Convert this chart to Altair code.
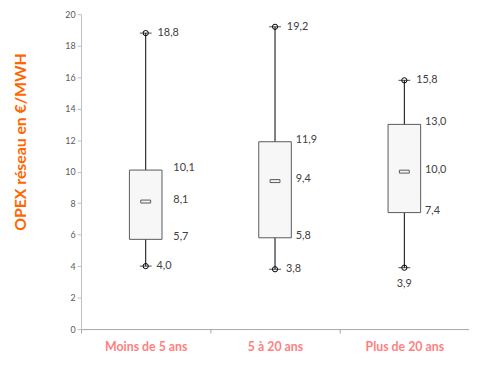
import altair as alt
import pandas as pd

categories = ["Moins de 5 ans", "5 à 20 ans", "Plus de 20 ans"]
mins = [4.0, 3.8, 3.9]
q1s = [5.7, 5.8, 7.4]
medians = [8.1, 9.4, 10.0]
q3s = [10.1, 11.9, 13.0]
maxs = [18.8, 19.2, 15.8]

df = pd.DataFrame({
    "cat": categories, "min": mins, "q1": q1s, "med": medians, "q3": q3s, "max": maxs,
})
fmt = lambda v: f"{v:.1f}".replace(".", ",")
for c in ["min", "q1", "med", "q3", "max"]:
    df[c + "_l"] = df[c].map(fmt)

FONT = "Lato"
xenc = alt.X("cat:N", sort=categories, title=None,
             scale=alt.Scale(paddingInner=0, paddingOuter=0),
             axis=alt.Axis(labelColor="#FF7F7F", labelFontSize=12.5, labelFontWeight="bold",
                           labelFont=FONT, labelPadding=8, domainColor="#A6A6A6",
                           tickColor="#A6A6A6", tickBand="extent", tickSize=4, labelAngle=0))
yscale = alt.Scale(domain=[0, 20], nice=False)
yenc = lambda f: alt.Y(f + ":Q", scale=yscale, title="OPEX réseau en €/MWH",
                       axis=alt.Axis(values=list(range(0, 21, 2)), grid=False,
                                     labelColor="#595959", labelFontSize=9, labelFont=FONT,
                                     domainColor="#BFBFBF", tickColor="#BFBFBF", tickSize=4,
                                     titleColor="#FF6600", titleFontSize=16, titleFont=FONT,
                                     titleFontWeight="bold", titleAngle=270,
                                     titleAlign="center", titleBaseline="middle",
                                     titleX=-61, titleY=129))

base = alt.Chart(df)
whisker = base.mark_rule(color="#000000", strokeWidth=1).encode(x=xenc, y=yenc("min"), y2="max:Q")
box = base.mark_bar(size=33, fill="#F7F7F7", stroke="#595959", strokeWidth=1).encode(
    x=xenc, y=yenc("q1"), y2="q3:Q")
med = base.mark_tick(size=10, thickness=3, fill="#F2F2F2", stroke="#595959", strokeWidth=1,
                     opacity=1).encode(x=xenc, y=yenc("med"))

caps = []
for f in ["min", "max"]:
    caps.append(base.mark_tick(size=12, thickness=1, color="#000000").encode(x=xenc, y=yenc(f)))
    caps.append(base.mark_point(shape="circle", size=28, filled=False, color="#000000",
                                strokeWidth=1, opacity=1).encode(x=xenc, y=yenc(f)))

tstyle = dict(font=FONT, fontSize=11, color="#404040", align="left", baseline="middle")
box_dx = alt.expr("datum.cat == 'Moins de 5 ans' ? 28 : 21")
texts = []
for f in ["q1", "med", "q3"]:
    texts.append(base.mark_text(dx=box_dx, dy=-2, **tstyle).encode(
        x=xenc, y=yenc(f), text=f + "_l:N"))
texts.append(base.mark_text(dx=12, **tstyle).encode(x=xenc, y=yenc("max"), text="max_l:N"))
min_main = base.transform_filter("datum.cat != 'Plus de 20 ans'")
texts.append(min_main.mark_text(dx=11, **tstyle).encode(x=xenc, y=yenc("min"), text="min_l:N"))
min_last = base.transform_filter("datum.cat == 'Plus de 20 ans'")
texts.append(min_last.mark_text(dy=11, **{**tstyle, "align": "center", "baseline": "top"}).encode(
    x=xenc, y=yenc("min"), text="min_l:N"))

chart = alt.layer(whisker, box, med, *caps, *texts).properties(
    width=393, height=319,
    autosize=alt.AutoSizeParams(type="none"),
    padding={"left": 74, "top": 4, "right": 0, "bottom": 26},
).configure_view(stroke=None)

chart.save("out.html", embed_options={"renderer": "svg", "actions": False})
